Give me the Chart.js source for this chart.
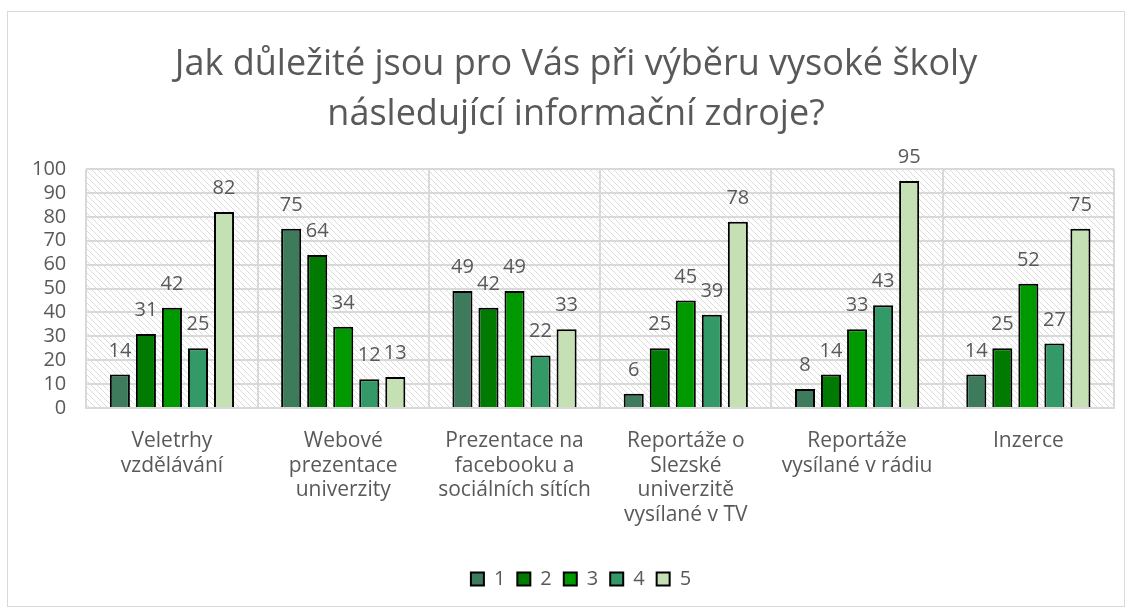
<!DOCTYPE html>
<html>
<head>
<meta charset="utf-8">
<script src="https://cdn.jsdelivr.net/npm/chart.js@4.4.1/dist/chart.umd.min.js"></script>
<style>
  html, body { margin: 0; padding: 0; background: #fff; }
  #wrap { position: relative; width: 1132px; height: 611px; }
  #frame { position: absolute; left: 7px; top: 11px; width: 1118px; height: 596px; border: 1px solid #d9d9d9; box-sizing: border-box; }
  #chart { position: absolute; left: 0; top: 0; }
</style>
</head>
<body>
<div id="wrap">
  <div id="frame"></div>
  <canvas id="chart" width="1132" height="611"></canvas>
</div>
<script>
const categories = [
  ['Veletrhy', 'vzdělávání'],
  ['Webové', 'prezentace', 'univerzity'],
  ['Prezentace na', 'facebooku a', 'sociálních sítích'],
  ['Reportáže o', 'Slezské', 'univerzitě', 'vysílané v TV'],
  ['Reportáže', 'vysílané v rádiu'],
  ['Inzerce']
];
const seriesNames = ['1', '2', '3', '4', '5'];
const values1 = [14, 75, 49, 6, 8, 14];
const values2 = [31, 64, 42, 25, 14, 25];
const values3 = [42, 34, 49, 45, 33, 52];
const values4 = [25, 12, 22, 39, 43, 27];
const values5 = [82, 13, 33, 78, 95, 75];
const barColors = ['#3e7b5d', '#007a00', '#009900', '#339966', '#c5e0b4'];

const textColor = '#595959';
const fontFamily = "'Open Sans', 'Noto Sans', sans-serif";

// hatched fill for the plot area
function makeHatch() {
  const c = document.createElement('canvas');
  c.width = 6; c.height = 6;
  const g = c.getContext('2d');
  g.fillStyle = '#fff';
  g.fillRect(0, 0, 6, 6);
  g.strokeStyle = '#dcdcdc';
  g.lineWidth = 1;
  g.beginPath();
  g.moveTo(-1, -1); g.lineTo(7, 7);
  g.moveTo(-4, 2); g.lineTo(4, 10);
  g.moveTo(2, -4); g.lineTo(10, 4);
  g.stroke();
  return g.createPattern(c, 'repeat');
}

const hatchPlugin = {
  id: 'hatch',
  beforeDraw(chart) {
    const { ctx, chartArea } = chart;
    ctx.save();
    ctx.fillStyle = makeHatch();
    ctx.fillRect(chartArea.left, chartArea.top, chartArea.right - chartArea.left, chartArea.bottom - chartArea.top);
    ctx.restore();
  }
};

// nudge title and legend a bit to the right, like the original
const nudgeBoxes = {
  id: 'nudgeBoxes',
  afterLayout(chart) {
    chart.titleBlock.left += 13;
    chart.titleBlock.right += 13;
    chart.legend.left += 18;
    chart.legend.right += 18;
  }
};

const valueLabels = {
  id: 'valueLabels',
  afterDatasetsDraw(chart) {
    const ctx = chart.ctx;
    ctx.save();
    ctx.fillStyle = textColor;
    ctx.font = '20px ' + fontFamily;
    ctx.textAlign = 'center';
    ctx.textBaseline = 'alphabetic';
    chart.data.datasets.forEach((ds, i) => {
      chart.getDatasetMeta(i).data.forEach((bar, j) => {
        ctx.fillText(ds.data[j], bar.x, bar.y - 18);
      });
    });
    ctx.restore();
  }
};

const allValues = [values1, values2, values3, values4, values5];

new Chart(document.getElementById('chart'), {
  type: 'bar',
  data: {
    labels: categories,
    datasets: allValues.map((vals, i) => ({
      label: seriesNames[i],
      data: vals,
      backgroundColor: barColors[i],
      borderColor: '#000',
      borderWidth: 2,
      categoryPercentage: 0.76,
      barPercentage: 0.77
    }))
  },
  plugins: [hatchPlugin, nudgeBoxes, valueLabels],
  options: {
    responsive: false,
    animation: false,
    layout: { padding: { left: 12, right: 18, top: 40, bottom: 12 } },
    plugins: {
      title: {
        display: true,
        text: ['Jak důležité jsou pro Vás při výběru vysoké školy', 'následující informační zdroje?'],
        color: textColor,
        font: { family: fontFamily, size: 36, weight: 'normal', lineHeight: 1.39 },
        padding: { top: 0, bottom: 29 }
      },
      legend: {
        position: 'bottom',
        labels: {
          color: textColor,
          font: { family: fontFamily, size: 20 },
          boxWidth: 13,
          boxHeight: 13,
          padding: 12
        }
      },
      tooltip: { enabled: false }
    },
    scales: {
      x: {
        grid: { color: '#d9d9d9', lineWidth: 2, offset: true, drawTicks: false },
        border: { color: '#d9d9d9', width: 2 },
        ticks: {
          color: textColor,
          font: { family: fontFamily, size: 21, lineHeight: 1.19 },
          maxRotation: 0,
          padding: 20
        },
        afterFit(scale) { scale.height += 9; }
      },
      y: {
        min: 0,
        max: 100,
        ticks: {
          stepSize: 10,
          autoSkip: false,
          color: textColor,
          font: { family: fontFamily, size: 20 },
          padding: 20
        },
        grid: { color: '#d9d9d9', lineWidth: 2, drawTicks: false },
        border: { display: false }
      }
    }
  }
});
</script>
</body>
</html>
